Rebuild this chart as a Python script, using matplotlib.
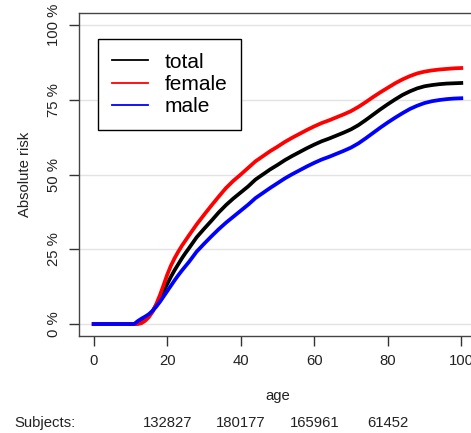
import matplotlib
matplotlib.use("Agg")
import matplotlib.pyplot as plt
import matplotlib.transforms as mtransforms

plt.rcParams["font.family"] = ["Liberation Sans", "DejaVu Sans"]

# absolute risk (%) by age
ages = [0, 11, 12, 13, 14, 15, 16, 17, 18, 19, 20, 21, 22, 23, 24, 25, 26, 28,
        30, 32, 34, 36, 38, 40, 42, 44, 46, 48, 50, 52, 54, 56, 58, 60, 62, 64,
        66, 68, 70, 72, 74, 76, 78, 80, 82, 84, 86, 88, 90, 92, 94, 96, 98, 100]
total = [0, 0, 0.3, 0.8, 1.6, 2.8, 4.3, 6.3, 8.6, 11, 13.4, 15.8, 18, 20, 22,
         23.8, 25.5, 29, 31.8, 34.5, 37.3, 39.8, 42, 44, 46, 48.3, 50, 51.7,
         53.2, 54.8, 56.2, 57.5, 58.8, 60, 61.1, 62, 63, 64, 65.1, 66.5, 68.2, 70,
         71.8, 73.5, 75.1, 76.6, 77.8, 78.8, 79.5, 79.9, 80.2, 80.4, 80.5, 80.6]
female = [0, 0, 0, 0.3, 1.1, 2.3, 4.1, 6.6, 9.6, 13, 16.5, 19.5, 22, 24.2, 26.2,
          28, 29.8, 33.3, 36.5, 39.6, 42.6, 45.5, 47.9, 50, 52.2, 54.4, 56.1,
          57.8, 59.3, 60.9, 62.3, 63.6, 64.9, 66.1, 67.2, 68.1, 69.1, 70.1, 71.2,
          72.6, 74.2, 75.9, 77.5, 79, 80.5, 81.8, 82.9, 83.8, 84.4, 84.8, 85.1,
          85.3, 85.5, 85.6]
male = [0, 0, 1, 1.8, 2.5, 3.3, 4.4, 5.8, 7.4, 9.2, 11, 12.8, 14.6, 16.3, 17.9,
        19.4, 20.9, 24.2, 26.8, 29.3, 31.7, 33.9, 35.9, 37.9, 39.9, 42.1, 43.8,
        45.5, 47.1, 48.7, 50.1, 51.4, 52.7, 53.9, 55, 55.9, 56.9, 57.9, 59,
        60.4, 62.1, 63.9, 65.7, 67.4, 69, 70.5, 71.9, 73, 73.9, 74.5, 74.9, 75.2,
        75.4, 75.5]

x_ticks = [0, 20, 40, 60, 80, 100]
y_ticks = [0, 25, 50, 75, 100]
subject_ages = [20, 40, 60, 80]
subjects = [132827, 180177, 165961, 61452]

fig = plt.figure(figsize=(4.71, 4.33), dpi=100)
ax = fig.add_axes([79 / 471, 97 / 433, 397 / 471, 323 / 433])

for y in y_ticks:
    ax.axhline(y, color="#e3e3e3", lw=1, zorder=0)

ax.plot(ages, total, color="black", lw=2.7, label="total")
ax.plot(ages, female, color="red", lw=2.7, label="female")
ax.plot(ages, male, color="blue", lw=2.7, label="male")

ax.set_xlim(-4, 104)
ax.set_ylim(-4, 104)
ax.set_xticks(x_ticks)
ax.set_yticks(y_ticks)
ax.set_yticklabels([f"{v} %" for v in y_ticks], rotation=90, va="center")
ax.tick_params(direction="out", length=7, width=1, colors="#333",
               labelsize=10.7, labelcolor="#222", pad=6)
for spine in ax.spines.values():
    spine.set_color("#444")
    spine.set_linewidth(1)

ax.set_xlabel("age", fontsize=10.7, color="#222", labelpad=15)
ax.set_ylabel("Absolute risk", fontsize=10.7, color="#222", labelpad=11)

leg = ax.legend(loc="upper left", bbox_to_anchor=(19 / 397, 1 - 26 / 323),
                fontsize=15, frameon=True, fancybox=False, framealpha=1,
                edgecolor="black", handlelength=1.75, handletextpad=0.8,
                labelspacing=0.16, borderpad=0.65, borderaxespad=0)
leg.get_frame().set_linewidth(1)
for line in leg.get_lines():
    line.set_linewidth(1.3)

fig.text(14 / 471, 10 / 433, "Subjects:", fontsize=10.7, color="#222",
         ha="left", va="center")
trans = mtransforms.blended_transform_factory(ax.transData, fig.transFigure)
for a, n in zip(subject_ages, subjects):
    ax.text(a, 10 / 433, str(n), transform=trans, fontsize=10.7, color="#222",
            ha="center", va="center", clip_on=False)

fig.savefig("out.png", dpi=100)
